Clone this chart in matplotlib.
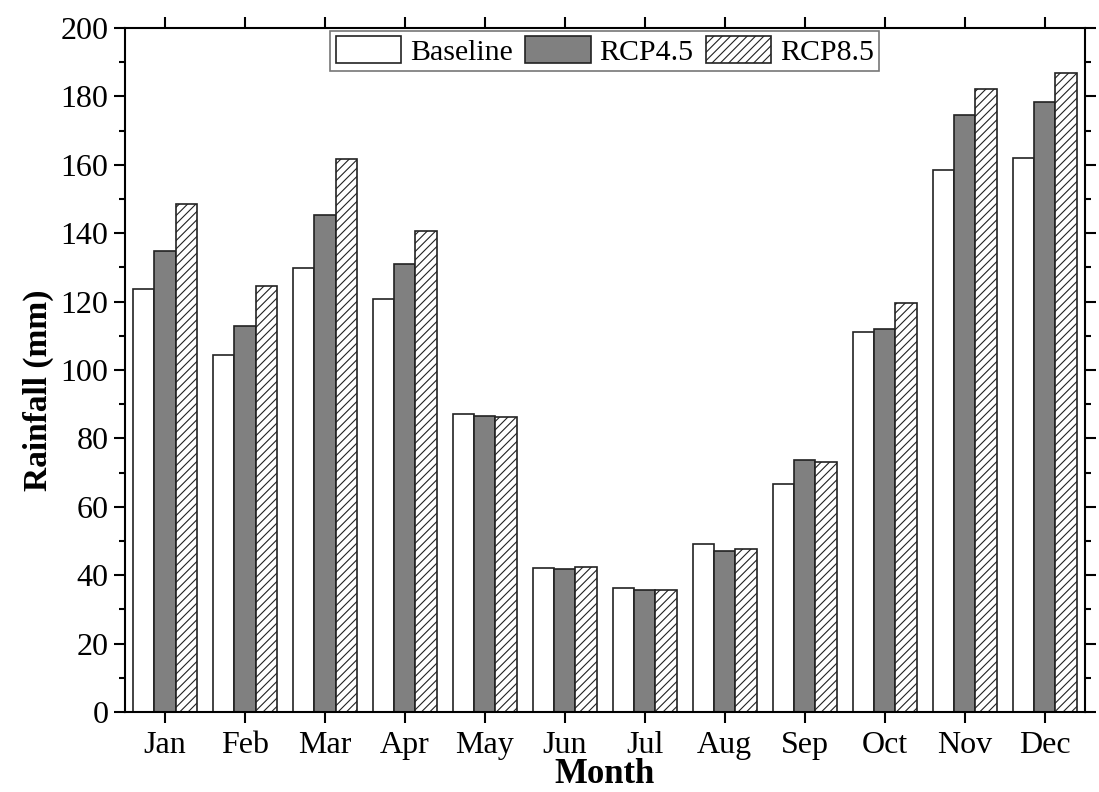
import numpy as np
import matplotlib
matplotlib.use('Agg')
import matplotlib.pyplot as plt
from matplotlib.ticker import MultipleLocator

plt.rcParams['font.family'] = ['Liberation Serif', 'DejaVu Serif']
plt.rcParams['hatch.linewidth'] = 0.8

months = ['Jan', 'Feb', 'Mar', 'Apr', 'May', 'Jun', 'Jul', 'Aug', 'Sep', 'Oct', 'Nov', 'Dec']
baseline = [123.7, 104.4, 129.8, 120.8, 87.2, 42.0, 36.2, 49.0, 66.8, 111.0, 158.5, 162.0]
rcp45 = [134.8, 112.9, 145.3, 131.0, 86.5, 41.8, 35.6, 47.0, 73.7, 112.0, 174.5, 178.3]
rcp85 = [148.5, 124.6, 161.7, 140.6, 86.3, 42.5, 35.8, 47.8, 73.0, 119.5, 182.3, 186.8]

x = np.arange(len(months))
w = 0.265

fig = plt.figure(figsize=(10.99, 7.92), dpi=100)
ax = fig.add_axes([0.1137, 0.101, 0.8733, 0.8636])

ax.bar(x - w, baseline, w, color='white', edgecolor='#222222', linewidth=1.2, label='Baseline')
ax.bar(x, rcp45, w, color='#808080', edgecolor='#222222', linewidth=1.2, label='RCP4.5')
ax.bar(x + w, rcp85, w, color='white', edgecolor='#222222', linewidth=1.2, hatch='////', label='RCP8.5')

ax.set_xlim(-0.5, 11.5)
ax.set_ylim(0, 200)
ax.set_xticks(x)
ax.set_xticklabels(months)
ax.yaxis.set_major_locator(MultipleLocator(20))
ax.yaxis.set_minor_locator(MultipleLocator(10))
ax.tick_params(axis='both', which='both', direction='out', width=1.5, labelsize=23,
               top=True, right=True)
ax.tick_params(axis='both', which='major', length=8)
ax.tick_params(axis='both', which='minor', length=4)
ax.tick_params(axis='x', pad=6)
ax.tick_params(axis='y', pad=4)
for s in ax.spines.values():
    s.set_linewidth(1.5)

ax.set_xlabel('Month', fontsize=25, fontweight='bold', labelpad=-2)
ax.set_ylabel('Rainfall (mm)', fontsize=24, fontweight='bold')
ax.yaxis.set_label_coords(-0.074, 0.47)

leg = ax.legend(loc='upper center', ncol=3, fontsize=21.5, frameon=True, fancybox=False,
                edgecolor='#555555', handlelength=2.2, handleheight=1.0,
                columnspacing=0.4, handletextpad=0.3, borderaxespad=0.1,
                borderpad=0.18, bbox_to_anchor=(0.5, 1.0))
leg.get_frame().set_linewidth(1.2)

fig.savefig('out.png', dpi=100)
